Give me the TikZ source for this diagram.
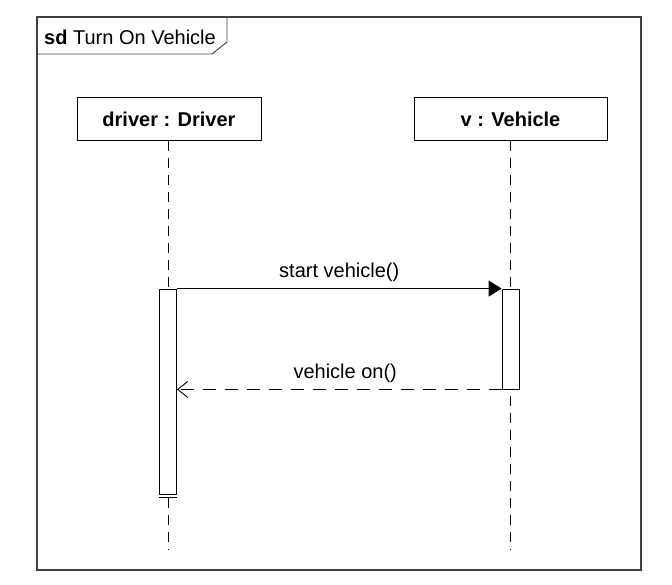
\documentclass[tikz,border=0pt]{standalone}
\usepackage{fontspec}
\setmainfont{Liberation Sans}
\usetikzlibrary{arrows.meta}
\tikzset{
  lifebox/.style={draw, line width=0.9pt, fill=white, inner sep=0pt,
    minimum height=43pt, font=\fontsize{20}{24}\selectfont\bfseries},
  lifeline/.style={line width=0.9pt, dash pattern=on 10pt off 7pt},
  actbox/.style={draw, line width=0.9pt, fill=white, inner sep=0pt, minimum width=17pt},
  msglabel/.style={font=\fontsize{20}{24}\selectfont, inner sep=1pt}
}
\begin{document}
\begin{tikzpicture}[x=1pt,y=-1pt]
    \useasboundingbox (0,0) rectangle (672,585);
    % frame with its tab
    \draw[line width=1.1pt, draw=black!75] (37,17) rectangle (641,570);
    \draw[line width=0.9pt, draw=black!75] (37,54) -- (212,54) -- (227,42) -- (227,17);
    \node[anchor=west, font=\fontsize{20}{24}\selectfont, inner sep=0pt] (title) at (44,37)
      {\textbf{sd} Turn On Vehicle};
    % lifelines
    \node[lifebox, minimum width=184pt] (driver) at (169,119) {driver : Driver};
    \node[lifebox, minimum width=193pt] (vehicle) at (510.5,119) {v : Vehicle};
    \coordinate (driverend) at (168,550);
    \coordinate (vehicleend) at (510.5,550);
    \draw[lifeline] (driver.south) ++(-1,0) -- (driverend);
    \draw[lifeline] (vehicle.south) -- (vehicleend);
    % activations
    \node[actbox, minimum height=205pt] (actd) at (168,391.5) {};
    \node[actbox, minimum height=100pt] (actv) at (510.5,339) {};
    \draw[line width=0.9pt] ([yshift=-3pt]actd.south west) -- ([yshift=-3pt]actd.south east);
    % messages
    \draw[line width=0.9pt, -{Triangle[length=13pt, width=16pt]}] (actd.north east) -- (actv.north west)
      node[msglabel, midway, above=5pt] (start) {start vehicle()};
    \draw[line width=0.9pt, dash pattern=on 13pt off 9pt, -{Straight Barb[length=10pt, width=16pt, line width=0.9pt]}]
      (actv.south west) -- (actv.south west -| actd.east)
      node[msglabel, midway, above=5pt, xshift=6pt] (on) {vehicle on()};
  \end{tikzpicture}
\end{document}
